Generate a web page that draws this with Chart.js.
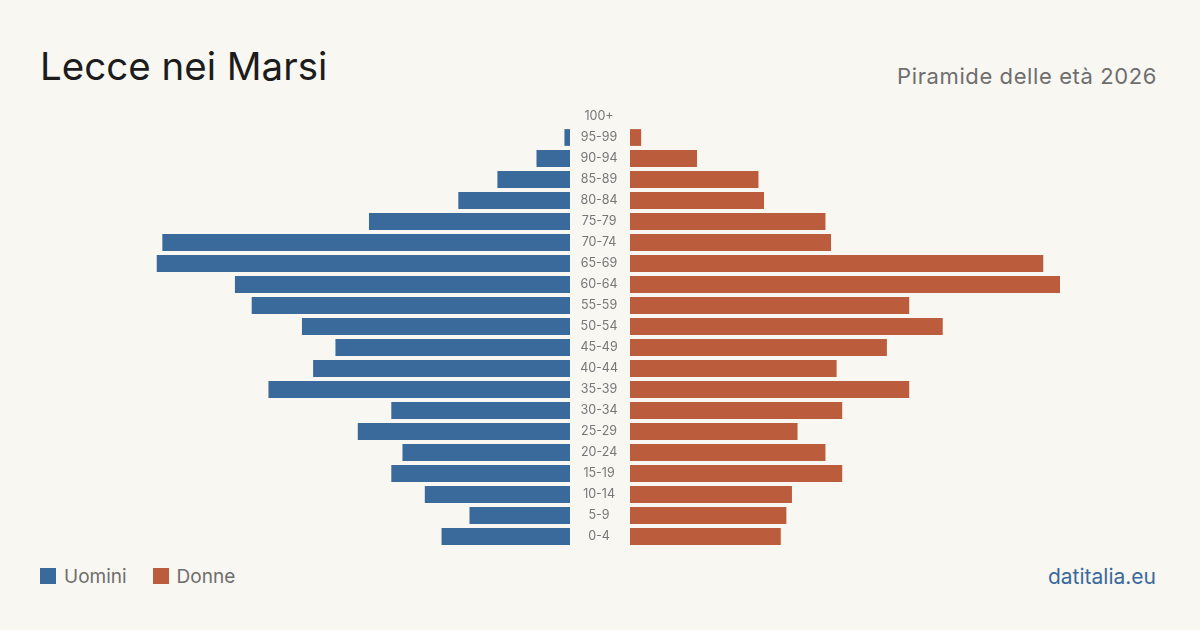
<!DOCTYPE html>
<html>
<head>
<meta charset="utf-8">
<script src="https://cdn.jsdelivr.net/npm/chart.js@4"></script>
<style>
  html, body { margin: 0; padding: 0; }
  body { width: 1200px; height: 630px; background: #f9f7f2; position: relative; overflow: hidden; font-family: Inter, "Noto Sans", sans-serif; }
  .txt { position: absolute; line-height: 1; white-space: nowrap; }
  #title { left: 40px; top: 47px; font-size: 38.5px; color: #1c1c1c; }
  #subtitle { right: 43px; top: 65px; font-size: 22px; color: #6e6e6e; letter-spacing: 0.6px; }
  #legend { left: 40px; top: 567px; font-size: 19px; color: #6e6e6e; }
  #legend span.sw { display: inline-block; width: 16px; height: 16px; vertical-align: -1px; margin-right: 8px; }
  #legend span.item { margin-right: 26px; }
  #source { right: 44px; top: 566px; font-size: 21px; color: #3a6a9c; }
  #leftWrap { position: absolute; left: 140px; top: 106px; width: 430px; height: 441px; }
  #rightWrap { position: absolute; left: 570px; top: 106px; width: 490px; height: 441px; }
</style>
</head>
<body>
<div id="title" class="txt">Lecce nei Marsi</div>
<div id="subtitle" class="txt">Piramide delle età 2026</div>
<div id="legend" class="txt"><span class="item"><span class="sw" style="background:#3a6a9c"></span>Uomini</span><span class="item"><span class="sw" style="background:#bb5c3c"></span>Donne</span></div>
<div id="source" class="txt">datitalia.eu</div>
<div id="leftWrap"><canvas id="menChart"></canvas></div>
<div id="rightWrap"><canvas id="womenChart"></canvas></div>
<script>
var ageGroups = ['100+', '95-99', '90-94', '85-89', '80-84', '75-79', '70-74', '65-69', '60-64', '55-59',
    '50-54', '45-49', '40-44', '35-39', '30-34', '25-29', '20-24', '15-19', '10-14', '5-9', '0-4'];
var men = [0, 1, 6, 13, 20, 36, 73, 74, 60, 57, 48, 42, 46, 54, 32, 38, 30, 32, 26, 18, 23];
var women = [0, 2, 12, 23, 24, 35, 36, 74, 77, 50, 56, 46, 37, 50, 38, 30, 35, 38, 29, 28, 27];
var scaleMax = 77;

var menColor = '#3a6a9c';
var womenColor = '#bb5c3c';

function baseOptions(reverse) {
    return {
        indexAxis: 'y',
        responsive: true,
        maintainAspectRatio: false,
        animation: false,
        layout: { padding: 0 },
        plugins: {
            legend: { display: false },
            title: { display: false },
            tooltip: { enabled: false }
        },
        scales: {
            x: { display: false, min: 0, max: scaleMax, reverse: reverse },
            y: { display: false }
        }
    };
}

var menOpts = baseOptions(true);
new Chart(document.getElementById('menChart'), {
    type: 'bar',
    data: {
        labels: ageGroups,
        datasets: [{
            label: 'Uomini',
            data: men,
            backgroundColor: menColor,
            barPercentage: 0.8,
            categoryPercentage: 1
        }]
    },
    options: menOpts
});

// age labels sit in the gap between the two halves
var womenOpts = baseOptions(false);
womenOpts.scales.y = {
    display: true,
    position: 'left',
    grid: { display: false, drawTicks: true, tickLength: 12 },
    border: { display: false },
    afterFit: function(axis) {
        axis.width = 60;
        axis.paddingTop = 0;
        axis.paddingBottom = 0;
    },
    ticks: {
        crossAlign: 'center',
        padding: 0,
        color: '#777777',
        font: { family: 'Inter', size: 12.5 }
    }
};
new Chart(document.getElementById('womenChart'), {
    type: 'bar',
    data: {
        labels: ageGroups,
        datasets: [{
            label: 'Donne',
            data: women,
            backgroundColor: womenColor,
            barPercentage: 0.8,
            categoryPercentage: 1
        }]
    },
    options: womenOpts
});
</script>
</body>
</html>
